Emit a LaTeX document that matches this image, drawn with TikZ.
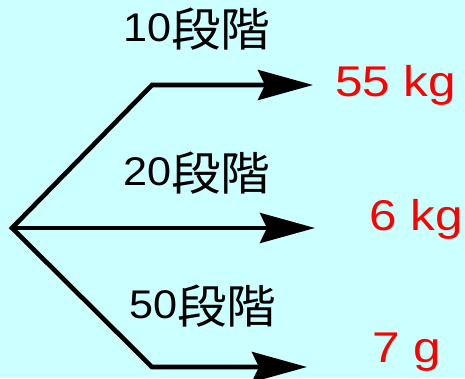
\documentclass[tikz,border=0pt]{standalone}
\usepackage{fontspec}
\setmainfont{Liberation Sans}
\newfontfamily\jpfont{Noto Sans CJK JP}
\usetikzlibrary{arrows.meta}
\definecolor{bgcyan}{RGB}{204,255,255}
\newcommand\danlabel[1]{\scalebox{1.08}[1]{#1{\jpfont\fontsize{46}{46}\selectfont\raisebox{-5pt}{段階}}}}
\newcommand\redval[1]{\scalebox{1.15}[1]{#1}}
\tikzset{
  conn/.style={line width=4.6pt, line join=miter,
    -{Stealth[length=55pt,width=30pt,inset=7pt]}},
  both/.style={line width=4.6pt, line join=miter,
    {Stealth[length=55pt,width=30pt,inset=7pt]}-{Stealth[length=55pt,width=30pt,inset=7pt]}},
  lab/.style={anchor=base west, inner sep=0pt, font=\fontsize{40}{40}\selectfont},
  val/.style={anchor=base west, inner sep=0pt, text=red, font=\fontsize{43}{43}\selectfont}
}
\begin{document}
\begin{tikzpicture}[x=1pt,y=1pt]
\fill[bgcyan] (0,0) rectangle (465,378);
\useasboundingbox (0,0) rectangle (465,378);
\coordinate (O) at (12,150);
\coordinate (Tb) at (152,293);
\coordinate (Te) at (313,293);
\coordinate (Me) at (315,150);
\coordinate (Bb) at (152,11);
\coordinate (Be) at (307,11);
\draw[both] (Te) -- (Tb) -- (O) -- (Bb) -- (Be);
\draw[conn] (O) -- (Me);
\node[lab] (l10) at (123,336) {\danlabel{10}};
\node[lab] (l20) at (123,193) {\danlabel{20}};
\node[lab] (l50) at (129,60) {\danlabel{50}};
\node[val] (v55) at (335,281) {\redval{55 kg}};
\node[val] (v6) at (369,148) {\redval{6 kg}};
\node[val] (v7) at (372,16) {\redval{7 g}};
\end{tikzpicture}
\end{document}
